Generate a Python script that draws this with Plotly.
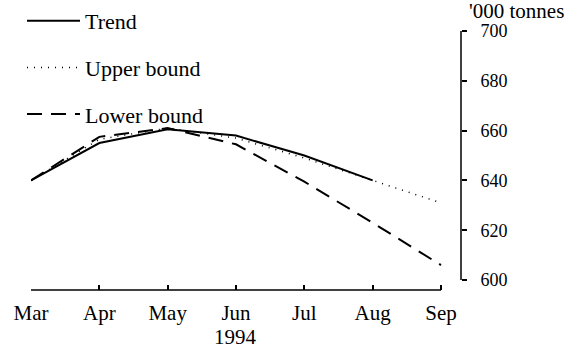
import plotly.graph_objects as go

months = ["Mar", "Apr", "May", "Jun", "Jul", "Aug", "Sep"]
tick_labels = ["Mar", "Apr", "May", "Jun", "Jul", "Aug", "Sep"]
year_label = "1994"
trend = [640, 655, 660.5, 658, 650, 640]
upper_bound = [640, 656.5, 661, 657, 649, 640, 631]
lower_bound = [640, 657.5, 661, 654.5, 639.5, 623, 606]
y_ticks = [600, 620, 640, 660, 680, 700]

FONT = "Liberation Serif"
W, H = 585, 349
L, R, T, B = 31, 124, 31, 59
PW, PH = W - L - R, H - T - B

fig = go.Figure()
fig.add_trace(go.Scatter(x=months[:len(trend)], y=trend, mode="lines", name="Trend",
                         legendgroup="a", line=dict(color="black", width=2)))
fig.add_trace(go.Scatter(x=months, y=upper_bound, mode="lines", name="Upper bound",
                         legendgroup="b", line=dict(color="black", width=1.5, dash="1px,6px")))
fig.add_trace(go.Scatter(x=months, y=lower_bound, mode="lines", name="Lower bound",
                         legendgroup="c", line=dict(color="black", width=2, dash="15px,9px")))

fig.update_layout(
    width=W, height=H,
    margin=dict(l=L, r=R, t=T, b=B, autoexpand=False),
    paper_bgcolor="white", plot_bgcolor="white",
    font=dict(family=FONT, size=20, color="black"),
    showlegend=True,
    legend=dict(xref="container", yref="container", x=22/W, y=1+14/H,
                xanchor="left", yanchor="top", traceorder="grouped",
                tracegroupgap=15, itemwidth=53, bgcolor="rgba(0,0,0,0)",
                font=dict(family=FONT, size=22)),
    xaxis=dict(type="category", categoryorder="array", categoryarray=months,
               range=[0, 6.293], tickvals=months, ticktext=tick_labels, tickangle=0,
               ticks="inside", ticklen=5, tickcolor="black", tickwidth=1.5,
               ticklabelstandoff=8,
               showline=False, showgrid=False, zeroline=False, automargin=False,
               tickfont=dict(family=FONT, size=21)),
    yaxis=dict(side="right", range=[596, 700], tickvals=y_ticks,
               ticks="outside", ticklen=5, tickcolor="black", tickwidth=1.5,
               ticklabelstandoff=10,
               showline=False, showgrid=False, zeroline=False, automargin=False,
               tickfont=dict(family=FONT, size=18)),
    shapes=[
        dict(type="line", xref="x", yref="paper", x0=months[0], x1=months[-1], y0=0, y1=0,
             line=dict(color="black", width=1.5)),
        dict(type="line", xref="paper", yref="y", x0=1, x1=1, y0=y_ticks[0], y1=y_ticks[-1],
             line=dict(color="black", width=1.5)),
    ],
    annotations=[
        dict(text="'000 tonnes", xref="paper", yref="paper",
             x=(516 - L) / PW, y=(H - B - 11) / PH,
             xanchor="center", yanchor="middle", showarrow=False,
             font=dict(family=FONT, size=21)),
        dict(text=year_label, xref="x", yref="paper",
             x=months[3], y=(H - B - 337) / PH,
             xanchor="center", yanchor="middle", showarrow=False,
             font=dict(family=FONT, size=21)),
    ],
)

fig.write_html("out.html", config={"displayModeBar": False},
               post_script="document.body.style.margin='0';")
